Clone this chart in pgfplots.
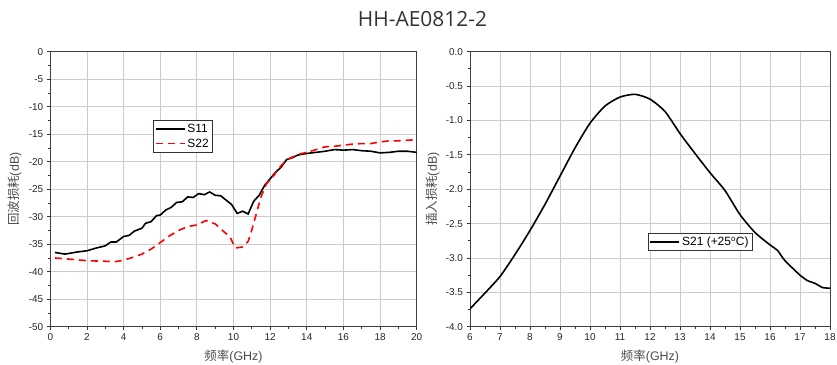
\documentclass[border=0pt]{standalone}
\usepackage{pgfplots}
\pgfplotsset{compat=1.18}
\usepackage{fontspec}
\setmainfont{Liberation Sans}
\newfontfamily\cjk{Noto Sans CJK SC}
\newfontfamily\titlefont{Open Sans}
\begin{document}
\begin{tikzpicture}
\useasboundingbox (0bp,0bp) rectangle (837bp,365bp);
\pgfplotsset{
  common/.style={
    scale only axis, anchor=south west,
    axis line style={black!75, line width=0.8bp},
    grid=major, major grid style={gray!40, line width=0.8bp},
    tick align=outside, xtick pos=bottom, ytick pos=left,
    major tick length=3.5bp, minor tick length=2bp,
    tick style={black!80, line width=0.8bp},
    minor x tick num=1, minor y tick num=1,
    tick label style={font=\fontsize{10}{11}\selectfont, text=black!85},
    label style={font=\fontsize{12.5}{13}\selectfont, text=black!70},
    /pgf/number format/assume math mode=true,
    legend cell align=left,
    legend style={draw=black!80, line width=0.8bp, font=\fontsize{12}{13}\selectfont, inner sep=1.5bp, row sep=1bp},
    legend image code/.code={\draw[#1] (0bp,0bp) -- (29bp,0bp);},
  }
}
\begin{axis}[common,
  at={(50.3bp,38.3bp)}, width=366.4bp, height=275bp,
  xmin=0, xmax=20, ymin=-50, ymax=0,
  xtick={0,2,...,20}, ytick={-50,-45,...,0},
  xlabel={{\cjk 频率}(GHz)}, ylabel={{\cjk 回波损耗}(dB)},
  xlabel style={at={(axis description cs:0.5,-0.108)}, anchor=center},
  ylabel style={at={(axis description cs:-0.0963,0.5)}, anchor=center},
  legend style={at={(axis description cs:0.28,0.7516)}, anchor=north west},
]
\addplot[black, line width=1.6bp] coordinates {
(0.25,-36.5)(0.8,-36.8)(1.5,-36.4)(2,-36.2)(2.5,-35.7)(3,-35.3)(3.3,-34.6)(3.6,-34.6)
(4,-33.6)(4.3,-33.4)(4.6,-32.6)(5,-32.1)(5.2,-31.2)(5.5,-30.9)(5.8,-29.8)(6,-29.7)
(6.3,-28.8)(6.6,-28.3)(6.9,-27.4)(7.2,-27.3)(7.5,-26.4)(7.8,-26.5)(8.1,-25.8)(8.4,-26.0)
(8.7,-25.5)(9,-26.1)(9.3,-26.2)(9.6,-27.0)(9.9,-27.8)(10.2,-29.4)(10.5,-29.0)(10.8,-29.5)
(11.1,-27.2)(11.4,-26.1)(11.7,-24.3)(12,-23.1)(12.3,-21.9)(12.6,-21.0)(12.9,-19.6)(13.2,-19.3)
(13.5,-18.8)(14,-18.5)(14.5,-18.3)(15,-18.1)(15.5,-17.8)(16,-17.9)(16.5,-17.8)(17,-18.0)
(17.5,-18.1)(18,-18.4)(18.5,-18.3)(19,-18.1)(19.5,-18.1)(20,-18.3)
};
\addlegendentry{S11}
\addplot[red, line width=1.6bp, dash pattern=on 7bp off 5bp] coordinates {
(0.25,-37.5)(1,-37.7)(2,-38.0)(3,-38.1)(3.5,-38.2)(4,-37.9)(4.5,-37.4)(5,-36.8)
(5.5,-35.9)(6,-34.7)(6.5,-33.5)(7,-32.5)(7.5,-31.8)(8,-31.5)(8.5,-30.7)(9,-31.3)
(9.5,-32.8)(9.8,-33.6)(10.1,-35.7)(10.5,-35.5)(10.8,-34.5)(11,-32.4)(11.2,-30.0)
(11.5,-26.4)(11.8,-24.0)(12.2,-22.5)(12.6,-20.7)(13,-19.5)(13.5,-18.7)(14,-18.3)
(14.5,-17.8)(15,-17.3)(15.5,-17.2)(16,-17.0)(16.5,-16.8)(17,-16.7)(17.5,-16.7)
(18,-16.4)(18.5,-16.2)(19,-16.2)(19.5,-16.1)(20,-16.0)
};
\addlegendentry{S22}
\end{axis}
\begin{axis}[common,
  at={(470bp,38.3bp)}, width=360bp, height=275bp,
  xmin=6, xmax=18, ymin=-4, ymax=0,
  xtick={6,7,...,18}, ytick={-4,-3.5,...,0},
  yticklabel style={/pgf/number format/.cd, fixed, fixed zerofill, precision=1},
  xlabel={{\cjk 频率}(GHz)}, ylabel={{\cjk 插入损耗}(dB)},
  xlabel style={at={(axis description cs:0.5,-0.108)}, anchor=center},
  ylabel style={at={(axis description cs:-0.103,0.5)}, anchor=center},
  legend style={at={(axis description cs:0.4936,0.3396)}, anchor=north west},
]
\addplot[black, line width=1.6bp, smooth, tension=0.4] coordinates {
(6,-3.74)(6.5,-3.51)(7,-3.27)(7.5,-2.95)(8,-2.60)(8.5,-2.22)(9,-1.81)(9.5,-1.40)
(10,-1.04)(10.5,-0.79)(11,-0.66)(11.5,-0.62)(12,-0.69)(12.5,-0.87)(13,-1.19)(13.5,-1.48)
(14,-1.76)(14.5,-2.02)(15,-2.37)(15.5,-2.63)(16,-2.81)(16.25,-2.89)(16.5,-3.04)(17,-3.25)
(17.25,-3.33)(17.5,-3.37)(17.75,-3.43)(18,-3.44)
};
\addlegendentry{S21 (+25\textsuperscript{o}C)}
\end{axis}
\node[font=\titlefont\fontsize{21}{23}\selectfont, text=black!80] at (422.5bp,345.5bp) {HH-AE0812-2};
\end{tikzpicture}
\end{document}
